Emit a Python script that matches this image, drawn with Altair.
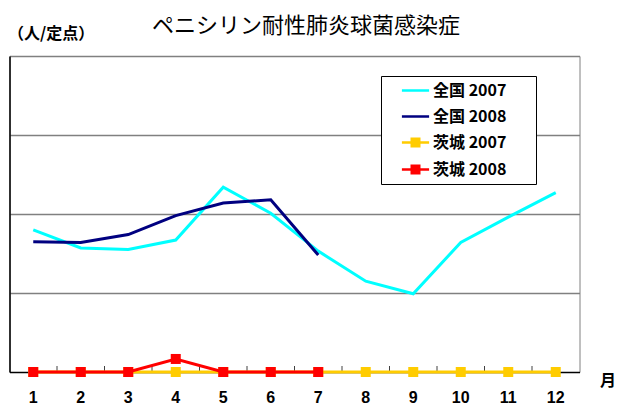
import altair as alt
import pandas as pd

# ---- data ----
months = [1, 2, 3, 4, 5, 6, 7, 8, 9, 10, 11, 12]
series_names = ["全国 2007", "全国 2008", "茨城 2007", "茨城 2008"]
zenkoku_2007 = [0.180, 0.157, 0.155, 0.167, 0.234, 0.201, 0.153, 0.115, 0.099, 0.164, 0.196, 0.227]
zenkoku_2008 = [0.165, 0.164, 0.174, 0.198, 0.214, 0.218, 0.148]
ibaraki_2007 = [0, 0, 0, 0, 0, 0, 0, 0, 0, 0, 0, 0]
ibaraki_2008 = [0, 0, 0, 0.0165, 0, 0, 0]
series_colors = ["#00FFFF", "#000080", "#FFCC00", "#FF0000"]
grid_values = [0.1, 0.2, 0.3, 0.4]
title_text = ["ペニシリン耐性肺炎球菌感染症"]
y_title_text = ["（人/定点）"]
x_title_text = ["月"]

CJK = "Noto Sans CJK JP"
NUM = "Liberation Sans Narrow, Arial Narrow, Liberation Sans"

rows = []
for name, vals in zip(series_names, [zenkoku_2007, zenkoku_2008, ibaraki_2007, ibaraki_2008]):
    for m, v in zip(months, vals):
        rows.append({"series": name, "month": m, "value": v})
df = pd.DataFrame(rows)

W, H = 570, 316

xscale = alt.Scale(type="band", domain=months, paddingInner=0, paddingOuter=0)
yscale = alt.Scale(domain=[0, 0.4], nice=False, zero=True)
cscale = alt.Scale(domain=series_names, range=series_colors)

line_path = "M-1.7,0H1.7"
sq_path = ("M-1.7,0H1.7M-0.625,-0.47H0.625M-0.625,-0.16H0.625"
           "M-0.625,0.16H0.625M-0.625,0.47H0.625")
sscale = alt.Scale(domain=series_names, range=[line_path, line_path, sq_path, sq_path])

x_axis = alt.Axis(title=None, labelAngle=0, ticks=False, grid=False,
                  domain=True, domainColor="#000000", domainWidth=1.5,
                  labelFont=NUM, labelFontSize=16, labelFontWeight="bold",
                  labelColor="#000000", labelPadding=17)
y_axis = alt.Axis(title=None, labels=False, ticks=False, values=grid_values,
                  grid=True, gridColor="#808080", gridWidth=1.5,
                  domain=True, domainColor="#000000", domainWidth=1.5)

leg = alt.Legend(
    title=None, orient="none", legendX=371.5, legendY=20, direction="vertical",
    padding=5, rowPadding=8, symbolSize=256, symbolStrokeWidth=2.5,
    symbolOffset=20, labelOffset=8, labelFont=CJK, labelFontSize=16,
    labelFontWeight="bold", labelColor="#000000", strokeColor="#000000",
    fillColor="#FFFFFF", symbolOpacity=1, symbolFillColor="transparent",
    labelExpr="datum.label + '\u2800\u2800'",
)


def X(**kw):
    return alt.X("month:O", scale=xscale, axis=x_axis, **kw)


def Y():
    return alt.Y("value:Q", scale=yscale, axis=y_axis)


def C():
    return alt.Color("series:N", scale=cscale, legend=leg)


base = alt.Chart(df)

# inner tick marks between months
ticks = alt.Chart(pd.DataFrame({"month": months[1:]})).mark_rule(
    color="#404040", strokeWidth=1
).encode(
    x=X(bandPosition=0),
    y=alt.value(H - 6),
    y2=alt.value(H),
)

# legend carrier (draws nothing, legend built from explicit scale domain)
legend_layer = base.transform_filter("false").mark_point(filled=False).encode(
    x=X(), y=Y(), color=C(),
    shape=alt.Shape("series:N", scale=sscale, legend=leg),
)

layers = [legend_layer, ticks]

for name in series_names:
    sub = base.transform_filter(alt.datum.series == name)
    layers.append(
        sub.mark_line(strokeWidth=3).encode(x=X(), y=Y(), color=C())
    )
    if name.startswith("茨城"):
        layers.append(
            sub.mark_square(size=100, opacity=1, filled=True).encode(
                x=X(), y=Y(), color=C())
        )

title = alt.Chart(pd.DataFrame({"t": title_text})).mark_text(
    font=CJK, fontSize=22, fontWeight="normal", color="#000000",
    align="center", baseline="alphabetic"
).encode(text="t:N", x=alt.value(296.5), y=alt.value(-23))

ylab = alt.Chart(pd.DataFrame({"t": y_title_text})).mark_text(
    font=CJK, fontSize=16, fontWeight="bold", color="#000000",
    align="left", baseline="alphabetic"
).encode(text="t:N", x=alt.value(-1.5), y=alt.value(-17.5))

xlab = alt.Chart(pd.DataFrame({"t": x_title_text})).mark_text(
    font=CJK, fontSize=16, fontWeight="bold", color="#000000",
    align="center", baseline="alphabetic"
).encode(text="t:N", x=alt.value(598.5), y=alt.value(330))

layers += [title, ylab, xlab]

chart = alt.layer(*layers).properties(
    width=W, height=H,
    autosize=alt.AutoSizeParams(type="none"),
    padding={"left": 1.5, "top": 48, "right": 40, "bottom": 32},
    background="#FFFFFF",
).configure_view(stroke="#808080", strokeWidth=1)

chart.save("out.html", embed_options={"renderer": "svg", "actions": False})
